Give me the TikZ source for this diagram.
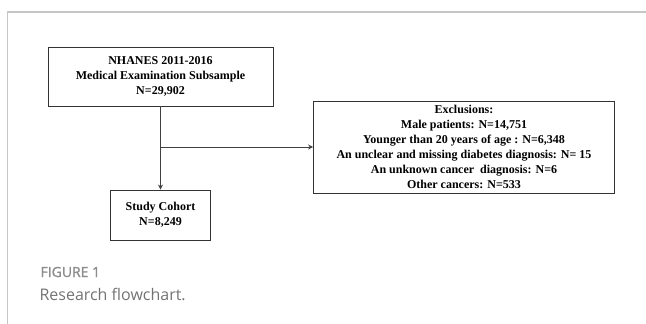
\documentclass[tikz,border=0pt]{standalone}
\usepackage{fontspec}
\setmainfont{Liberation Serif}
\newfontfamily\capfont{Open Sans}
\newfontfamily\capfontb[FakeBold=1.3]{Open Sans}
\usetikzlibrary{arrows.meta}
\begin{document}
\begin{tikzpicture}[x=1pt,y=-1pt,
  box/.style={draw=black!80, line width=0.9pt, fill=white, inner sep=0pt,
    font=\fontsize{12}{15}\selectfont\bfseries, align=center},
  conn/.style={draw=black!75, line width=0.9pt},
  arr/.style={conn, -{Stealth[length=5pt,width=5pt]}}]
\useasboundingbox (0,0) rectangle (646,324);
\draw[gray!45, line width=1.2pt] (7.5,324) -- (7.5,12) -- (646,12);
\node[box, minimum width=225pt, minimum height=59pt] (src) at (160.5,76.5)
  {NHANES 2011-2016\\Medical Examination Subsample\\N=29,902};
\node[box, minimum width=301pt, minimum height=92pt] (exc) at (464,147)
  {Exclusions:\\Male patients: N=14,751\\Younger than 20 years of age : N=6,348\\An unclear and missing diabetes diagnosis: N= 15\\An unknown cancer\ \ diagnosis: N=6\\Other cancers: N=533};
\node[box, minimum width=100pt, minimum height=50pt] (coh) at (160.5,215)
  {Study Cohort\\N=8,249};
\coordinate (br) at (src.south |- exc.west);
\draw[arr] (src.south) -- (coh.north);
\draw[arr] (br) -- (exc.west);
\node[anchor=west, text=black!45, font=\capfontb\fontsize{14}{16}\selectfont] (fig) at (37,272) {FIGURE 1};
\node[anchor=west, text=black!55, font=\capfont\fontsize{16}{18}\selectfont] (cap) at (36,294) {Research flowchart.};
\end{tikzpicture}
\end{document}
